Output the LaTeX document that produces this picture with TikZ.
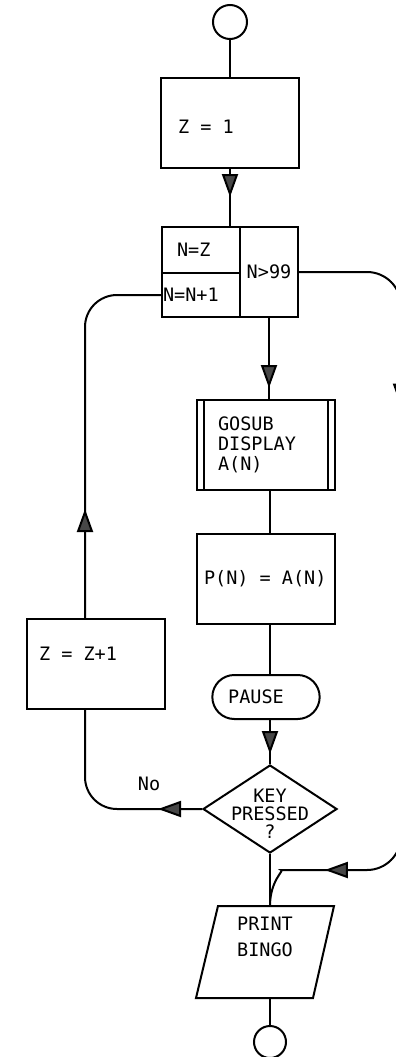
\documentclass[tikz,border=0pt]{standalone}
\usepackage{fontspec}
\setmonofont{DejaVu Sans Mono}
\usetikzlibrary{shapes.geometric, shapes.misc, arrows.meta, decorations.markings}

\tikzset{
  flowtip/.style={postaction={decorate, decoration={markings,
      mark=at position #1 with {\arrow{Triangle[length=23pt, width=16pt, fill=black!72]}}}}},
  procbox/.style={draw, rectangle, align=flush left},
}

\begin{document}
\begin{tikzpicture}[x=1pt, y=-1pt, line width=2pt,
  every node/.style={font=\ttfamily\fontsize{18.5}{20}\selectfont}]
\useasboundingbox (0,0) rectangle (396,1057);
% start and stop
\node[draw, circle, minimum size=34pt, inner sep=0pt] (start) at (230,22) {};
\node[draw, circle, minimum size=32pt, inner sep=0pt] (stop) at (270,1042) {};
% boxes
\node[procbox, minimum height=90pt, text width=104pt, inner xsep=17pt, text height=21.5pt] (zone) at (230,123) {Z = 1};
\node[procbox, minimum height=46pt, text width=48pt, inner xsep=15pt] (nz) at (201,250) {N=Z};
\node[procbox, minimum height=44pt, text width=76pt, inner xsep=1pt] (nn) at (201,295) {N=N+1};
\node[procbox, minimum height=90pt, minimum width=58pt] (ncheck) at (269,272) {N>99};
\node[procbox, minimum height=90pt, text width=96pt, inner xsep=21pt] (sub) at (266,445) {GOSUB\\DISPLAY\\A(N)};
\draw ([xshift=8pt]sub.north west) -- ([xshift=8pt]sub.south west);
\draw ([xshift=-8pt]sub.north east) -- ([xshift=-8pt]sub.south east);
\node[procbox, minimum height=90pt, text width=124pt, inner xsep=7pt] (pset) at (266,579) {P(N) = A(N)};
\node[draw, rounded rectangle, minimum width=114pt, minimum height=44pt,
  label={[xshift=-10pt]center:PAUSE}] (pause) at (266,697) {};
\node[draw, diamond, minimum width=134pt, minimum height=88pt, inner sep=0pt,
  label={[align=center, yshift=-5pt, font=\ttfamily\fontsize{18.5}{18}\selectfont]center:KEY\\PRESSED\\?}] (key) at (270,809) {};
\node[procbox, minimum height=90pt, text width=114pt, inner xsep=12pt, text depth=20pt] (zinc) at (96,664) {Z = Z+1};
% output box (slanted)
\node[minimum width=136pt, minimum height=90pt, inner sep=0pt,
  label={[align=center, yshift=15pt, font=\ttfamily\fontsize{18.5}{26}\selectfont]center:PRINT\\BINGO}] (print) at (265,952) {};
\draw ([xshift=22pt]print.north west) -- (print.north east) -- ([xshift=-21pt]print.south east)
  -- (print.south west) -- cycle;
\node (nolabel) at (149,784) {No};

% main line
\draw (start) -- (start |- zone.north);
\draw[flowtip=28pt] (zone.south -| start) -- (start |- nz.north);
\draw[flowtip=70pt] (ncheck.south) -- (ncheck.south |- sub.north);
\draw (sub.south -| key) -- (pset.north -| key);
\draw (pset.south -| key) -- (pause.north -| key);
\draw[flowtip=34pt] (pause.south -| key) -- (key.north);
\draw (key.south) -- (print.north -| key);
\draw (print.south -| key) -- (stop);
% loop back on the left
\draw[rounded corners=32pt, flowtip=44pt] (key.west) -| ([xshift=-11pt]zinc.south);
\draw[rounded corners=32pt, flowtip=109pt] ([xshift=-11pt]zinc.north) |- (nn.west);
% exit on the right
\coordinate (rail) at (401,870);
\draw[rounded corners=34pt, flowtip=222pt, flowtip=747pt] (ncheck.east) -| (rail) -- (315,870)
  .. controls (285,870) and (270,880) .. (print.north -| key);
\end{tikzpicture}
\end{document}
